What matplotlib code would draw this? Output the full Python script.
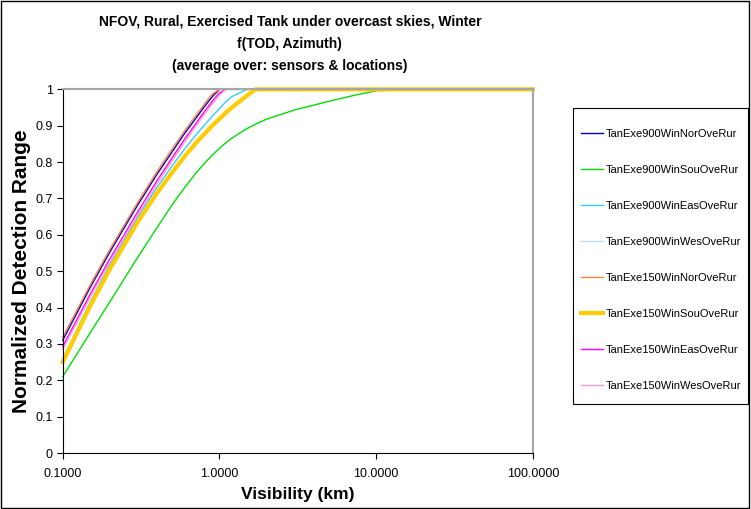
import matplotlib
matplotlib.use("Agg")
import matplotlib.pyplot as plt
from matplotlib.patches import Rectangle
from matplotlib.ticker import FixedLocator, FuncFormatter, NullLocator

plt.rcParams['font.family'] = ['Liberation Sans', 'DejaVu Sans']

# visibility sample points (km)
vis = [0.1, 0.15, 0.2, 0.3, 0.4, 0.5, 0.6, 0.7, 0.8, 0.9, 1.0, 1.1, 1.2,
       1.5, 1.7, 2, 3, 5, 7, 10, 20, 50, 100]

nor900 = [0.310, 0.456, 0.553, 0.681, 0.767, 0.829, 0.879, 0.918, 0.952, 0.980,
          1.0, 1.0, 1.0, 1.0, 1.0, 1.0, 1.0, 1.0, 1.0, 1.0, 1.0, 1.0, 1.0]
sou900 = [0.210, 0.331, 0.416, 0.537, 0.620, 0.683, 0.730, 0.767, 0.796, 0.819,
          0.838, 0.853, 0.866, 0.892, 0.904, 0.918, 0.943, 0.967, 0.982, 0.996,
          1.0, 1.0, 1.0]
eas900 = [0.258, 0.415, 0.518, 0.648, 0.731, 0.790, 0.836, 0.872, 0.901, 0.926,
          0.947, 0.966, 0.980, 1.0, 1.0, 1.0, 1.0, 1.0, 1.0, 1.0, 1.0, 1.0, 1.0]
wes900 = [0.249, 0.403, 0.504, 0.632, 0.713, 0.770, 0.814, 0.848, 0.875, 0.898,
          0.917, 0.934, 0.948, 0.981, 1.0, 1.0, 1.0, 1.0, 1.0, 1.0, 1.0, 1.0, 1.0]
nor150 = [0.318, 0.463, 0.560, 0.688, 0.774, 0.836, 0.886, 0.925, 0.959, 0.987,
          1.0, 1.0, 1.0, 1.0, 1.0, 1.0, 1.0, 1.0, 1.0, 1.0, 1.0, 1.0, 1.0]
sou150 = [0.250, 0.405, 0.506, 0.634, 0.715, 0.772, 0.816, 0.850, 0.877, 0.900,
          0.919, 0.936, 0.950, 0.983, 1.0, 1.0, 1.0, 1.0, 1.0, 1.0, 1.0, 1.0, 1.0]
eas150 = [0.293, 0.437, 0.534, 0.662, 0.749, 0.812, 0.863, 0.903, 0.938, 0.967,
          0.990, 1.0, 1.0, 1.0, 1.0, 1.0, 1.0, 1.0, 1.0, 1.0, 1.0, 1.0, 1.0]
wes150 = [0.285, 0.429, 0.526, 0.654, 0.741, 0.804, 0.855, 0.896, 0.931, 0.960,
          0.984, 1.0, 1.0, 1.0, 1.0, 1.0, 1.0, 1.0, 1.0, 1.0, 1.0, 1.0, 1.0]

names = ['TanExe900WinNorOveRur', 'TanExe900WinSouOveRur', 'TanExe900WinEasOveRur',
         'TanExe900WinWesOveRur', 'TanExe150WinNorOveRur', 'TanExe150WinSouOveRur',
         'TanExe150WinEasOveRur', 'TanExe150WinWesOveRur']
series = [nor900, sou900, eas900, wes900, nor150, sou150, eas150, wes150]
colors = ['#0000c0', '#00e000', '#33ccff', '#c0dcff',
          '#ff8040', '#ffcc00', '#ff00ff', '#ff99cc']
widths = [1.0, 1.0, 1.0, 1.0, 1.0, 3.0, 1.0, 1.0]

fig = plt.figure(figsize=(7.51, 5.09), dpi=100)
ax = fig.add_axes([0.0835, 0.110, 0.626, 0.7145])

for y, name, c, lw in zip(series, names, colors, widths):
    ax.plot(vis, y, color=c, lw=lw, label=name, clip_on=False)

ax.set_xscale('log')
ax.set_xlim(0.1, 100)
ax.set_ylim(0, 1)
ax.xaxis.set_major_locator(FixedLocator([0.1, 1, 10, 100]))
ax.xaxis.set_minor_locator(NullLocator())
ax.xaxis.set_major_formatter(FuncFormatter(lambda v, p: '%.4f' % v))
ax.yaxis.set_major_locator(FixedLocator([i / 10 for i in range(11)]))
ax.yaxis.set_major_formatter(FuncFormatter(lambda v, p: '%g' % round(v, 1)))
ax.tick_params(direction='out', length=4, width=0.8, labelsize=9, color='black')
ax.tick_params(axis='x', pad=7)
ax.tick_params(axis='y', pad=3)

for s in ['top', 'right']:
    ax.spines[s].set_color('#a6a6a6')
    ax.spines[s].set_linewidth(1.5)
for s in ['left', 'bottom']:
    ax.spines[s].set_color('black')
    ax.spines[s].set_linewidth(0.8)

# titles
fig.text(0.386, 1 - 22 / 509, 'NFOV, Rural, Exercised Tank under overcast skies, Winter',
         ha='center', va='center', fontsize=10, fontweight='bold')
fig.text(0.386, 1 - 44 / 509, 'f(TOD, Azimuth)',
         ha='center', va='center', fontsize=10, fontweight='bold')
fig.text(0.386, 1 - 66 / 509, '(average over: sensors & locations)',
         ha='center', va='center', fontsize=10, fontweight='bold')
fig.text(298 / 751, 1 - 495 / 509, 'Visibility (km)',
         ha='center', va='center', fontsize=12.5, fontweight='bold')
fig.text(22 / 751, 1 - 271 / 509, 'Normalized Detection Range', rotation=90,
         ha='center', va='center', fontsize=15, fontweight='bold')

# legend entries without frame, box drawn separately
leg = ax.legend(loc='upper left', bbox_to_anchor=(581 / 751, 1 - 129 / 509),
                bbox_transform=fig.transFigure, borderaxespad=0, borderpad=0,
                fontsize=8, labelspacing=2.34, handlelength=2.0,
                handletextpad=0.25, frameon=False)
fig.add_artist(Rectangle((573 / 751, 1 - 404 / 509), 175 / 751, 296 / 509,
                         transform=fig.transFigure, fill=False, ec='black', lw=0.8))

# chart border
fig.add_artist(Rectangle((0.001, 0.002), 0.997, 0.996, transform=fig.transFigure,
                         fill=False, ec='black', lw=1.0))

fig.savefig('out.png', dpi=100)
